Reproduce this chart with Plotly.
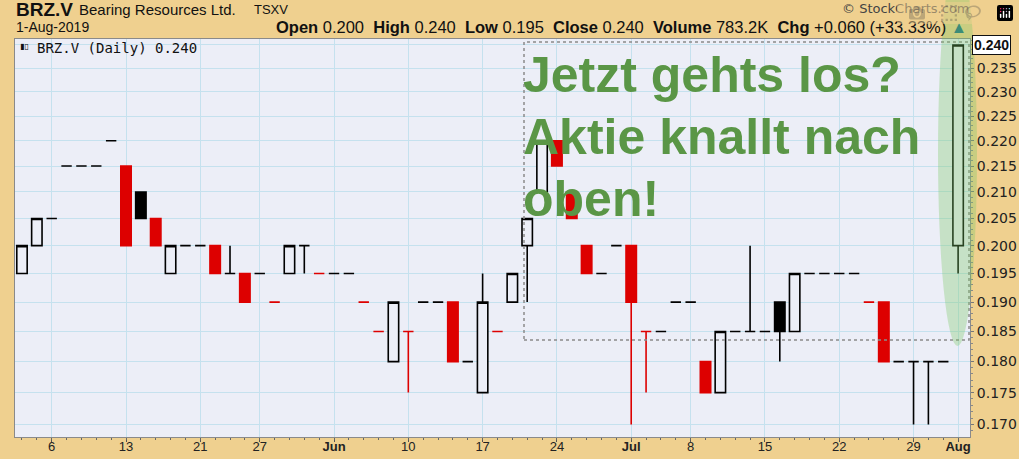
import math
import plotly.graph_objects as go

# ---------------- data ----------------
dates = [
    "2019-05-02", "2019-05-03", "2019-05-06", "2019-05-07", "2019-05-08", "2019-05-09", "2019-05-10",
    "2019-05-13", "2019-05-14", "2019-05-15", "2019-05-16", "2019-05-17", "2019-05-21", "2019-05-22",
    "2019-05-23", "2019-05-24", "2019-05-27", "2019-05-28", "2019-05-29", "2019-05-30", "2019-05-31",
    "2019-06-03", "2019-06-04", "2019-06-05", "2019-06-06", "2019-06-07", "2019-06-10", "2019-06-11",
    "2019-06-12", "2019-06-13", "2019-06-14", "2019-06-17", "2019-06-18", "2019-06-19", "2019-06-20",
    "2019-06-21", "2019-06-24", "2019-06-25", "2019-06-26", "2019-06-27", "2019-06-28", "2019-07-02",
    "2019-07-03", "2019-07-04", "2019-07-05", "2019-07-08", "2019-07-09", "2019-07-10", "2019-07-11",
    "2019-07-12", "2019-07-15", "2019-07-16", "2019-07-17", "2019-07-18", "2019-07-19", "2019-07-22",
    "2019-07-23", "2019-07-24", "2019-07-25", "2019-07-26", "2019-07-29", "2019-07-30", "2019-07-31",
    "2019-08-01",
]
open_ = [
    0.195, 0.200, 0.205, 0.215, 0.215, 0.215, 0.220,
    0.215, 0.210, 0.205, 0.195, 0.200, 0.200, 0.200,
    0.195, 0.195, 0.195, 0.190, 0.195, 0.200, 0.195,
    0.195, 0.195, 0.190, 0.185, 0.180, 0.185, 0.190,
    0.190, 0.190, 0.180, 0.175, 0.185, 0.190, 0.200,
    0.210, 0.220, 0.210, 0.200, 0.195, 0.200, 0.200,
    0.185, 0.185, 0.190, 0.190, 0.180, 0.175, 0.185,
    0.185, 0.185, 0.190, 0.185, 0.195, 0.195, 0.195,
    0.195, 0.190, 0.190, 0.180, 0.180, 0.180, 0.180,
    0.200,
]
high = [
    0.200, 0.205, 0.205, 0.215, 0.215, 0.215, 0.220,
    0.215, 0.210, 0.205, 0.200, 0.200, 0.200, 0.200,
    0.200, 0.195, 0.195, 0.190, 0.200, 0.200, 0.195,
    0.195, 0.195, 0.190, 0.185, 0.190, 0.185, 0.190,
    0.190, 0.190, 0.180, 0.195, 0.185, 0.195, 0.205,
    0.220, 0.220, 0.210, 0.200, 0.195, 0.200, 0.200,
    0.185, 0.185, 0.190, 0.190, 0.180, 0.185, 0.185,
    0.200, 0.185, 0.190, 0.195, 0.195, 0.195, 0.195,
    0.195, 0.190, 0.190, 0.180, 0.180, 0.180, 0.180,
    0.240,
]
low = [
    0.195, 0.200, 0.205, 0.215, 0.215, 0.215, 0.220,
    0.200, 0.205, 0.200, 0.195, 0.200, 0.200, 0.195,
    0.195, 0.190, 0.195, 0.190, 0.195, 0.195, 0.195,
    0.195, 0.195, 0.190, 0.185, 0.180, 0.175, 0.190,
    0.190, 0.180, 0.180, 0.175, 0.185, 0.190, 0.190,
    0.210, 0.215, 0.205, 0.195, 0.195, 0.200, 0.170,
    0.175, 0.185, 0.190, 0.190, 0.175, 0.175, 0.185,
    0.185, 0.185, 0.180, 0.185, 0.195, 0.195, 0.195,
    0.195, 0.190, 0.180, 0.180, 0.170, 0.170, 0.180,
    0.195,
]
close = [
    0.200, 0.205, 0.205, 0.215, 0.215, 0.215, 0.220,
    0.200, 0.205, 0.200, 0.200, 0.200, 0.200, 0.195,
    0.195, 0.190, 0.195, 0.190, 0.200, 0.200, 0.195,
    0.195, 0.195, 0.190, 0.185, 0.190, 0.185, 0.190,
    0.190, 0.180, 0.180, 0.190, 0.185, 0.195, 0.205,
    0.220, 0.215, 0.205, 0.195, 0.195, 0.200, 0.190,
    0.185, 0.185, 0.190, 0.190, 0.175, 0.185, 0.185,
    0.185, 0.185, 0.185, 0.195, 0.195, 0.195, 0.195,
    0.195, 0.190, 0.180, 0.180, 0.180, 0.180, 0.180,
    0.240,
]

x_tick_dates = ["2019-05-06", "2019-05-13", "2019-05-21", "2019-05-27", "2019-06-03", "2019-06-10",
                "2019-06-17", "2019-06-24", "2019-07-02", "2019-07-08", "2019-07-15", "2019-07-22",
                "2019-07-29", "2019-08-01"]
x_tick_labels = ["6", "13", "21", "27", "<b>Jun</b>", "10", "17", "24", "<b>Jul</b>", "8", "15", "22",
                 "29", "<b>Aug</b>"]
y_tick_values = [0.170, 0.175, 0.180, 0.185, 0.190, 0.195, 0.200, 0.205, 0.210, 0.215, 0.220,
                 0.225, 0.230, 0.235, 0.240]
y_tick_labels = ["0.170", "0.175", "0.180", "0.185", "0.190", "0.195", "0.200", "0.205", "0.210",
                 "0.215", "0.220", "0.225", "0.230", "0.235", ""]
y_minor_values = [0.169 + 0.001 * k for k in range(73)]

last_close_label = "0.240"

# ---------------- styling ----------------
W, H = 1019, 459
L, R, T, B = 15, 970, 39, 437          # plot area in pixels
TAN = "#efd08f"
PLOTBG = "#eceef7"
GRID = "#c5e1ee"
RED = "#dd0000"
GREEN_TXT = "#5a9646"


def px(xp):
    return (xp - L) / (R - L)


def py(yp):
    return (B - yp) / (B - T)


fig = go.Figure()

# split candles into StockCharts styles: colour vs previous close, hollow if close > open
groups = {}
for i, d in enumerate(dates):
    prev = close[i - 1] if i > 0 else close[i]
    col = RED if close[i] < prev else "#000000"
    hollow = close[i] > open_[i]
    groups.setdefault((col, hollow), []).append(i)

for (col, hollow), idx in groups.items():
    fill = PLOTBG if hollow else col
    style = dict(line=dict(color=col, width=1.6), fillcolor=fill)
    fig.add_trace(go.Candlestick(
        x=[dates[i] for i in idx],
        open=[open_[i] for i in idx],
        high=[high[i] for i in idx],
        low=[low[i] for i in idx],
        close=[close[i] for i in idx],
        increasing=style, decreasing=style,
        whiskerwidth=0, showlegend=False, hoverinfo="skip",
    ))

# invisible helper trace for the daily minor-tick axis
fig.add_trace(go.Scatter(x=dates, y=close, xaxis="x2", mode="markers",
                         marker=dict(opacity=0, size=1), showlegend=False, hoverinfo="skip"))

xrange = [-0.47, len(dates) - 0.2]
yrange = [math.log10(0.16808), math.log10(0.24131)]

fig.update_layout(
    width=W, height=H,
    margin=dict(l=L, r=W - R, t=T, b=H - B, pad=0, autoexpand=False),
    paper_bgcolor=TAN, plot_bgcolor=PLOTBG,
    hovermode=False, showlegend=False,
    boxgap=0.3, boxgroupgap=0.0,
    xaxis=dict(
        type="category", categoryorder="array", categoryarray=dates,
        range=xrange, rangeslider=dict(visible=False), automargin=False,
        tickmode="array", tickvals=x_tick_dates, ticktext=x_tick_labels,
        showgrid=True, gridcolor=GRID, gridwidth=1,
        ticks="outside", ticklen=4, tickcolor="#555", ticklabelstandoff=-7,
        tickfont=dict(family="Liberation Sans Narrow, Arial Narrow, Liberation Sans", size=13, color="#222"),
        showline=True, linecolor="#8a8a8a", linewidth=1, mirror=True,
        fixedrange=True,
    ),
    xaxis2=dict(
        type="category", categoryorder="array", categoryarray=dates,
        overlaying="x", anchor="y", side="bottom", range=xrange, automargin=False,
        tickmode="array", tickvals=dates, ticktext=[""] * len(dates),
        ticks="outside", ticklen=2, tickcolor="#666",
        showgrid=False, showline=False, zeroline=False, fixedrange=True,
    ),
    yaxis=dict(
        type="log", side="right", range=yrange, automargin=False,
        tickmode="array", tickvals=y_tick_values, ticktext=y_tick_labels,
        showgrid=True, gridcolor=GRID, gridwidth=1,
        ticks="outside", ticklen=3, tickcolor="#777",
        minor=dict(tickmode="array", tickvals=y_minor_values, ticks="outside", ticklen=2,
                   tickcolor="#888", showgrid=False),
        tickfont=dict(family="DejaVu Sans", size=14, color="#222"),
        showline=True, linecolor="#8a8a8a", linewidth=1, mirror=True,
        zeroline=False, fixedrange=True,
    ),
)

ann = []
# header
ann.append(dict(text="<b>BRZ.V</b>", x=px(14), y=py(9), font=dict(family="Liberation Sans", size=19, color="#111")))
ann.append(dict(text="Bearing Resources Ltd.", x=px(77), y=py(9), font=dict(family="Liberation Sans", size=15, color="#111")))
ann.append(dict(text="TSXV", x=px(252), y=py(10), font=dict(family="Liberation Sans", size=13, color="#111")))
ann.append(dict(text="1-Aug-2019", x=px(14), y=py(27), font=dict(family="Liberation Sans", size=14, color="#111")))
nb = "\u00a0"
ohlc = (f"<b>Open</b> 0.200{nb}{nb}<b>High</b> 0.240{nb}{nb}<b>Low</b> 0.195{nb}{nb}"
        f"<b>Close</b> 0.240{nb}{nb}<b>Volume</b> 783.2K{nb}{nb}<b>Chg</b> +0.060 (+33.33%) "
        f"<span style='color:#3c8c78'>▲</span>")
ann.append(dict(text=ohlc, x=px(969), y=py(27), xanchor="right",
                font=dict(family="Liberation Sans", size=16.5, color="#111")))
ann.append(dict(text="© StockCharts.com", x=px(972), y=py(8), xanchor="right",
                font=dict(family="DejaVu Sans", size=13, color="#444")))
# inside-plot label
ann.append(dict(text="<b>▮▯</b>", x=px(18), y=py(47), font=dict(family="DejaVu Sans", size=8, color="#111")))
ann.append(dict(text="BRZ.V (Daily) 0.240", x=px(35), y=py(48),
                font=dict(family="DejaVu Sans Mono", size=14, color="#111")))
# big green text
for line, yb in [("Jetzt gehts los?", 93), ("Aktie knallt nach", 155), ("oben!", 217)]:
    ann.append(dict(text=f"<b>{line}</b>", x=px(521), y=py(yb - 18),
                    font=dict(family="Liberation Sans", size=50, color=GREEN_TXT)))
# last price box
ann.append(dict(text=f"<b>{last_close_label}</b>", x=px(972), yref="y", y=math.log10(close[-1]),
                xanchor="left", yanchor="middle", bgcolor="white", bordercolor="#111",
                borderwidth=1, borderpad=1,
                font=dict(family="Liberation Sans Narrow, Liberation Sans", size=14, color="#111")))

for a in ann:
    a.setdefault("xref", "paper")
    a.setdefault("yref", "paper")
    a.setdefault("xanchor", "left")
    a.setdefault("yanchor", "middle")
    a["showarrow"] = False
fig.update_layout(annotations=ann)

fig.update_layout(shapes=[
    dict(type="rect", xref="paper", yref="paper", x0=px(524), x1=px(969), y0=py(340), y1=py(42),
         line=dict(color="#8a8a8a", width=1.5, dash="dot"), fillcolor="rgba(0,0,0,0)", layer="above"),
    dict(type="circle", xref="paper", yref="paper", x0=px(938), x1=px(977), y0=py(346), y1=py(-40),
         line=dict(width=0), fillcolor="rgba(120,200,100,0.33)", layer="above"),
])

fig.write_html("out.html",
               post_script="document.body.style.margin='0';document.body.style.overflow='hidden';")
